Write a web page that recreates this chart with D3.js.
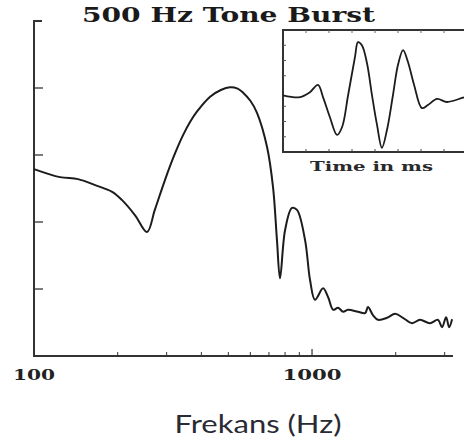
<!DOCTYPE html>
<html>
<head>
<meta charset="utf-8">
<script src="https://cdn.jsdelivr.net/npm/d3@7"></script>
<style>
  html, body { margin: 0; padding: 0; background: #fff; }
  svg { display: block; }
</style>
</head>
<body>
<svg id="chart" width="464" height="447"></svg>
<script>
// Magnitude spectrum of a 500 Hz tone burst (relative level, dB)
const freqHz = [100, 124, 144, 166, 191, 207, 231, 255, 272, 296, 322, 344, 365, 386, 430, 470, 507, 540, 565, 600, 634, 689, 724, 748, 767, 800, 847, 883, 944, 984, 1025, 1096, 1142, 1191, 1241, 1294, 1346, 1463, 1552, 1590, 1656, 1727, 1862, 1990, 2124, 2291, 2445, 2655, 2837, 2935, 3036, 3112, 3190];
const levelDb = [27.9, 26.7, 26.4, 25.5, 24.5, 23.3, 21.0, 18.5, 21.8, 26.3, 30.3, 33.0, 35.0, 36.5, 38.7, 39.7, 40.1, 39.9, 39.3, 38.1, 36.3, 31.2, 25.2, 17.3, 11.6, 18.8, 22.1, 21.8, 17.3, 11.3, 8.4, 10.1, 8.8, 6.9, 7.2, 6.6, 6.9, 6.6, 6.4, 7.3, 6.1, 5.4, 5.7, 6.3, 5.7, 4.9, 5.4, 4.9, 5.4, 4.3, 5.8, 4.3, 5.5];

// Time waveform of the burst (inset)
const timeMs = [0, 0.74, 1.17, 1.52, 1.74, 2.04, 2.35, 2.57, 2.83, 3.13, 3.26, 3.43, 3.65, 3.87, 4.09, 4.30, 4.52, 4.78, 5.00, 5.22, 5.43, 5.70, 6.04, 6.30, 6.70, 7.13, 7.83, 8.0];
const amplitude = [-0.07, -0.10, -0.02, 0.10, -0.10, -0.43, -0.72, -0.59, -0.07, 0.56, 0.80, 0.75, 0.46, -0.07, -0.56, -0.93, -0.64, -0.07, 0.43, 0.67, 0.48, 0.10, -0.28, -0.23, -0.13, -0.18, -0.11, -0.10];

// Axis ticks
const yTicks = [10, 20, 30, 40];
const xMajorTicks = [100, 1000];
const xMinorTicks = [200, 300, 400, 500, 600, 700, 800, 900, 2000, 3000];
const insetTimeTicks = [1, 2, 3, 4, 5, 6, 7];
const insetAmpTicks = [-0.75, -0.5, -0.25, 0.25, 0.5, 0.75];

const title = "500 Hz Tone Burst";
const insetLabel = "Time in ms";
const xAxisTitle = "Frekans (Hz)";

const svg = d3.select("#chart");
const ink = "#1c1c1c";

// ---- main spectrum ----
const x = d3.scaleLog().domain([100, 3214]).range([34, 453]);
const y = d3.scaleLinear().domain([0, 50]).range([356, 21]);

const axes = svg.append("g").attr("stroke", "#333").attr("fill", "none");
// left axis with inward ticks
axes.append("path")
  .attr("d", `M${x(100) + 8},${y(50)}H${x(100)}V${y(0)}H${x(3214)}`)
  .attr("stroke-width", 2);
axes.selectAll(".ytick").data(yTicks).join("line")
  .attr("x1", x(100)).attr("x2", x(100) + 9)
  .attr("y1", d => y(d)).attr("y2", d => y(d))
  .attr("stroke-width", 1.3);
// bottom axis ticks pointing up
axes.selectAll(".xmin").data(xMinorTicks).join("line")
  .attr("x1", d => x(d)).attr("x2", d => x(d))
  .attr("y1", y(0)).attr("y2", y(0) - 4)
  .attr("stroke-width", 1);
axes.selectAll(".xmaj").data(xMajorTicks).join("line")
  .attr("x1", d => x(d)).attr("x2", d => x(d))
  .attr("y1", y(0)).attr("y2", y(0) - 7)
  .attr("stroke-width", 1.2);

svg.append("g")
  .attr("font-family", "'DejaVu Serif', serif")
  .attr("font-weight", "bold")
  .attr("font-size", 15)
  .attr("fill", "#222")
  .selectAll("text").data(xMajorTicks).join("text")
  .attr("x", d => x(d)).attr("y", 380)
  .attr("text-anchor", "middle")
  .attr("textLength", d => d === 100 ? 42 : 59)
  .attr("lengthAdjust", "spacingAndGlyphs")
  .text(d => d);

const spectrum = freqHz.map((f, i) => [f, levelDb[i]]);
svg.append("path")
  .datum(spectrum)
  .attr("fill", "none")
  .attr("stroke", ink)
  .attr("stroke-width", 2)
  .attr("stroke-linejoin", "round")
  .attr("d", d3.line().x(d => x(d[0])).y(d => y(d[1])).curve(d3.curveCatmullRom.alpha(0.5)));

// ---- title ----
svg.append("text")
  .attr("x", 82).attr("y", 22)
  .attr("font-family", "'DejaVu Serif', serif")
  .attr("font-weight", "bold")
  .attr("font-size", 20)
  .attr("fill", "#1a1a1a")
  .attr("textLength", 293)
  .attr("lengthAdjust", "spacingAndGlyphs")
  .text(title);

// ---- inset waveform ----
const ix = d3.scaleLinear().domain([0, 8]).range([283, 467]);
const iy = d3.scaleLinear().domain([-1, 1]).range([152, 30]);

const inset = svg.append("g");
inset.append("rect")
  .attr("x", ix(0)).attr("y", iy(1))
  .attr("width", ix(8) - ix(0) + 4).attr("height", iy(-1) - iy(1))
  .attr("fill", "#fff").attr("stroke", "#333").attr("stroke-width", 2);
inset.selectAll(".itx").data(insetTimeTicks).join("line")
  .attr("x1", d => ix(d)).attr("x2", d => ix(d))
  .attr("y1", iy(-1)).attr("y2", iy(-1) - 3)
  .attr("stroke", "#444").attr("stroke-width", 1);
inset.selectAll(".itt").data(insetTimeTicks).join("line")
  .attr("x1", d => ix(d)).attr("x2", d => ix(d))
  .attr("y1", iy(1)).attr("y2", iy(1) + 3)
  .attr("stroke", "#666").attr("stroke-width", 1);
inset.selectAll(".iay").data(insetAmpTicks).join("line")
  .attr("x1", ix(0)).attr("x2", ix(0) + 3)
  .attr("y1", d => iy(d)).attr("y2", d => iy(d))
  .attr("stroke", "#555").attr("stroke-width", 1);

const wave = timeMs.map((t, i) => [t, amplitude[i]]);
inset.append("path")
  .datum(wave)
  .attr("fill", "none")
  .attr("stroke", ink)
  .attr("stroke-width", 1.8)
  .attr("d", d3.line().x(d => ix(d[0])).y(d => iy(d[1])).curve(d3.curveCatmullRom));

inset.append("text")
  .attr("x", 310).attr("y", 171)
  .attr("font-family", "'DejaVu Serif', serif")
  .attr("font-weight", "bold")
  .attr("font-size", 12)
  .attr("fill", "#2a2a2a")
  .attr("textLength", 123)
  .attr("lengthAdjust", "spacingAndGlyphs")
  .text(insetLabel);

// ---- x axis title ----
svg.append("text")
  .attr("x", 258).attr("y", 433)
  .attr("text-anchor", "middle")
  .attr("font-family", "Lato, 'Open Sans', sans-serif")
  .attr("font-size", 25)
  .attr("fill", "#2a2a33")
  .attr("textLength", 167)
  .attr("lengthAdjust", "spacingAndGlyphs")
  .text(xAxisTitle);
</script>
</body>
</html>
